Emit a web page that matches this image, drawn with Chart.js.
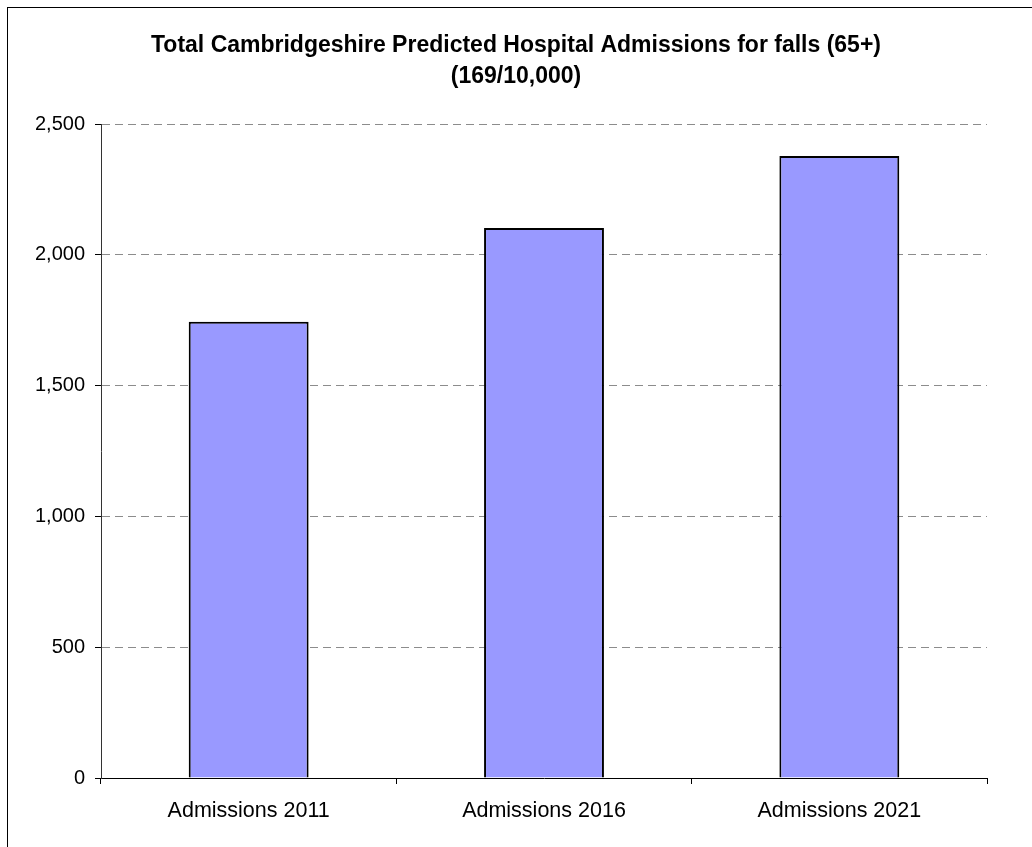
<!DOCTYPE html>
<html>
<head>
<meta charset="utf-8">
<script src="https://cdn.jsdelivr.net/npm/chart.js@4/dist/chart.umd.min.js"></script>
<style>
  html, body { margin: 0; padding: 0; background: #fff; overflow: hidden; }
  .frame { position: absolute; left: 7px; top: 7px; width: 1100px; height: 900px; border: 1px solid #000; }
  .wrap { position: absolute; left: 0; top: 0; width: 1032px; height: 847px; }
</style>
</head>
<body>
<div class="frame"></div>
<div class="wrap"><canvas id="chart"></canvas></div>
<script>
const titleLines = ['Total Cambridgeshire Predicted Hospital Admissions for falls (65+)', '(169/10,000)'];
const categories = ['Admissions 2011', 'Admissions 2016', 'Admissions 2021'];
const admissions = [1744, 2102, 2378];
const yTicks = [0, 500, 1000, 1500, 2000, 2500];

const FONT = "'Liberation Sans', Arial, sans-serif";

const ctx = document.getElementById('chart').getContext('2d');
new Chart(ctx, {
  type: 'bar',
  data: {
    labels: categories,
    datasets: [
      {
        label: 'Admissions',
        data: admissions,
        backgroundColor: '#9999FF',
        borderColor: '#000000',
        borderWidth: 2,
        borderSkipped: 'start',
        categoryPercentage: 1,
        barPercentage: 0.406,
      },
    ],
  },
  options: {
    responsive: true,
    maintainAspectRatio: false,
    animation: false,
    layout: { padding: 0 },
    scales: {
      x: {
        grid: {
          offset: true,
          drawOnChartArea: false,
          tickLength: 6,
          tickColor: '#000',
          tickWidth: 1,
        },
        border: { color: '#000', width: 1 },
        ticks: {
          color: '#000',
          padding: 14,
          font: { family: FONT, size: 21.5 },
        },
        afterFit: (scale) => { scale.height = 69; },
      },
      y: {
        min: yTicks[0],
        max: yTicks[yTicks.length - 1],
        afterBuildTicks: (scale) => { scale.ticks = yTicks.map((v) => ({ value: v })); },
        grid: {
          color: (c) => (c.tick && c.tick.value === 0 ? 'rgba(0,0,0,0)' : '#8c8c8c'),
          lineWidth: 1,
          tickLength: 6,
          tickColor: '#000',
          tickWidth: 1,
          tickBorderDash: [],
        },
        border: { color: '#333', width: 1, dash: [8, 5] },
        ticks: {
          color: '#000',
          padding: 10,
          font: { family: FONT, size: 20 },
          callback: (value) => new Intl.NumberFormat('en-US').format(value),
        },
        afterFit: (scale) => { scale.width = 101; },
      },
      // empty right-hand spacer so the title stays centred on the page
      spacer: {
        type: 'linear',
        position: 'right',
        grid: { display: false },
        border: { display: false },
        ticks: { display: false },
        afterFit: (scale) => { scale.width = 45; },
      },
    },
    plugins: {
      legend: { display: false },
      tooltip: { enabled: false },
      title: {
        display: true,
        text: titleLines,
        color: '#000',
        font: { family: FONT, size: 23, weight: 'bold', lineHeight: 1.35 },
        padding: { top: 30, bottom: 31.9 },
      },
    },
  },
});
</script>
</body>
</html>
